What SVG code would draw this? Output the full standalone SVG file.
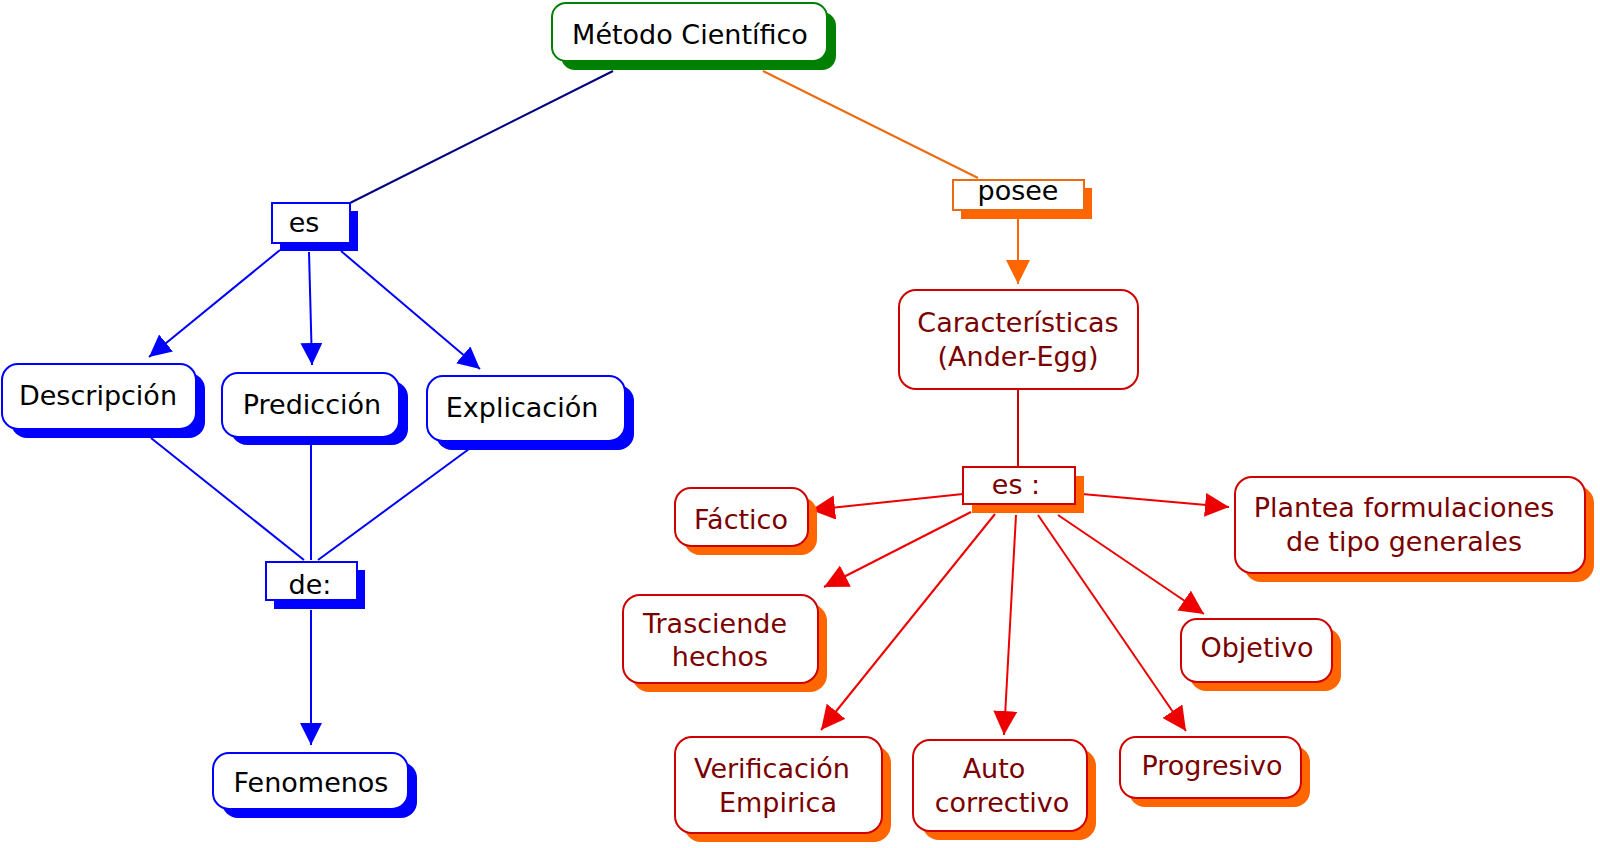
<svg xmlns="http://www.w3.org/2000/svg" width="1600" height="848" viewBox="0 0 1600 848">
<defs>
<style>
text{font-family:"DejaVu Sans",Verdana,sans-serif;font-size:27px;text-anchor:middle}
.blk{fill:#000}
.red{fill:#7a0000}
.bsh{fill:#0000ff}
.bbox{fill:#fff;stroke:#0000ff;stroke-width:2}
.osh{fill:#ff6600}
.rbox{fill:#fff;stroke:#d00000;stroke-width:2}
.gsh{fill:#008000}
.gbox{fill:#fff;stroke:#008000;stroke-width:2}
.obox{fill:#fff;stroke:#ee6a10;stroke-width:2}
.cb{stroke:#0000ff;stroke-width:2;fill:none}
.cr{stroke:#ee0000;stroke-width:2;fill:none}
</style>
<marker id="ab" markerUnits="userSpaceOnUse" markerWidth="24" markerHeight="24" refX="22" refY="11" orient="auto"><path d="M0,0 L22,11 L0,22 z" fill="#0000ff"/></marker>
<marker id="ar" markerUnits="userSpaceOnUse" markerWidth="26" markerHeight="26" refX="24" refY="12" orient="auto"><path d="M0,0 L24,12 L0,24 z" fill="#ee0000"/></marker>
<marker id="ao" markerUnits="userSpaceOnUse" markerWidth="26" markerHeight="26" refX="24" refY="12" orient="auto"><path d="M0,0 L24,12 L0,24 z" fill="#ff6600"/></marker>
</defs>
<rect width="1600" height="848" fill="#fff"/>
<g id="connectors">
<line x1="613" y1="71" x2="350" y2="203" stroke="#000080" stroke-width="2"/>
<line x1="763" y1="71" x2="978" y2="178" stroke="#ee6a10" stroke-width="2"/>
<line x1="1018" y1="219" x2="1018" y2="284" stroke="#ff6600" stroke-width="2" marker-end="url(#ao)"/>
<line x1="1018" y1="389" x2="1018" y2="467" stroke="#cc0000" stroke-width="2"/>
<line class="cb" x1="280" y1="250" x2="149" y2="357" marker-end="url(#ab)"/>
<line class="cb" x1="309" y1="252" x2="312" y2="365" marker-end="url(#ab)"/>
<line class="cb" x1="341" y1="251" x2="480" y2="369" marker-end="url(#ab)"/>
<line class="cb" x1="151" y1="438" x2="304" y2="560"/>
<line class="cb" x1="311" y1="442" x2="311" y2="560"/>
<line class="cb" x1="469" y1="449" x2="318" y2="560"/>
<line class="cb" x1="311" y1="610" x2="311" y2="745" marker-end="url(#ab)"/>
<line class="cr" x1="963" y1="494" x2="811" y2="510" marker-end="url(#ar)"/>
<line class="cr" x1="971" y1="512" x2="824" y2="587" marker-end="url(#ar)"/>
<line class="cr" x1="995" y1="514" x2="821" y2="730" marker-end="url(#ar)"/>
<line class="cr" x1="1016" y1="515" x2="1004" y2="735" marker-end="url(#ar)"/>
<line class="cr" x1="1038" y1="515" x2="1186" y2="731" marker-end="url(#ar)"/>
<line class="cr" x1="1058" y1="515" x2="1204" y2="614" marker-end="url(#ar)"/>
<line class="cr" x1="1082" y1="494" x2="1229" y2="507" marker-end="url(#ar)"/>
</g>
<g id="metodo">
<rect class="gsh" x="561" y="12" width="275" height="58" rx="14"/>
<rect class="gbox" x="552" y="3" width="275" height="58" rx="14"/>
<text class="blk" x="690" y="44">Método Científico</text>
</g>
<g id="es1">
<rect class="bsh" x="280" y="211" width="78" height="40"/>
<rect class="bbox" x="272" y="203" width="78" height="40"/>
<text class="blk" x="304" y="232">es</text>
</g>
<g id="descripcion">
<rect class="bsh" x="11" y="373" width="194" height="65" rx="16"/>
<rect class="bbox" x="2" y="364" width="194" height="65" rx="16"/>
<text class="blk" x="98" y="405">Descripción</text>
</g>
<g id="prediccion">
<rect class="bsh" x="231" y="381" width="177" height="64" rx="16"/>
<rect class="bbox" x="222" y="373" width="177" height="64" rx="16"/>
<text class="blk" x="312" y="414">Predicción</text>
</g>
<g id="explicacion">
<rect class="bsh" x="436" y="385" width="198" height="65" rx="16"/>
<rect class="bbox" x="427" y="376" width="198" height="65" rx="16"/>
<text class="blk" x="522" y="417">Explicación</text>
</g>
<g id="de">
<rect class="bsh" x="274" y="570" width="91" height="39"/>
<rect class="bbox" x="266" y="562" width="91" height="38"/>
<text class="blk" x="310" y="594">de:</text>
</g>
<g id="fenomenos">
<rect class="bsh" x="222" y="762" width="195" height="56" rx="16"/>
<rect class="bbox" x="213" y="753" width="195" height="56" rx="16"/>
<text class="blk" x="311" y="792">Fenomenos</text>
</g>
<g id="posee">
<rect class="osh" x="961" y="188" width="131" height="31"/>
<rect class="obox" x="953" y="180" width="131" height="30"/>
<text class="blk" x="1018" y="200">posee</text>
</g>
<g id="caracteristicas">
<rect class="rbox" x="899" y="290" width="239" height="99" rx="17"/>
<text class="red" x="1018" y="332">Características</text>
<text class="red" x="1018" y="366">(Ander-Egg)</text>
</g>
<g id="es2">
<rect class="osh" x="972" y="476" width="112" height="37"/>
<rect class="rbox" x="963" y="467" width="112" height="37"/>
<text class="red" x="1016" y="494">es :</text>
</g>
<g id="factico">
<rect class="osh" x="684" y="497" width="133" height="58" rx="16"/>
<rect class="rbox" x="675" y="488" width="133" height="58" rx="16"/>
<text class="red" x="741" y="529">Fáctico</text>
</g>
<g id="trasciende">
<rect class="osh" x="632" y="604" width="195" height="88" rx="17"/>
<rect class="rbox" x="623" y="595" width="195" height="88" rx="17"/>
<text class="red" x="715" y="633">Trasciende</text>
<text class="red" x="720" y="666">hechos</text>
</g>
<g id="plantea">
<rect class="osh" x="1244" y="486" width="350" height="96" rx="17"/>
<rect class="rbox" x="1235" y="477" width="350" height="96" rx="17"/>
<text class="red" x="1404" y="517">Plantea formulaciones</text>
<text class="red" x="1404" y="551">de tipo generales</text>
</g>
<g id="objetivo">
<rect class="osh" x="1190" y="628" width="151" height="63" rx="16"/>
<rect class="rbox" x="1181" y="619" width="151" height="63" rx="16"/>
<text class="red" x="1257" y="657">Objetivo</text>
</g>
<g id="verificacion">
<rect class="osh" x="684" y="746" width="207" height="96" rx="17"/>
<rect class="rbox" x="675" y="737" width="207" height="96" rx="17"/>
<text class="red" x="772" y="778">Verificación</text>
<text class="red" x="778" y="812">Empirica</text>
</g>
<g id="auto">
<rect class="osh" x="922" y="749" width="174" height="91" rx="17"/>
<rect class="rbox" x="913" y="740" width="174" height="91" rx="17"/>
<text class="red" x="994" y="778">Auto</text>
<text class="red" x="1002" y="812">correctivo</text>
</g>
<g id="progresivo">
<rect class="osh" x="1129" y="746" width="181" height="61" rx="16"/>
<rect class="rbox" x="1120" y="737" width="181" height="61" rx="16"/>
<text class="red" x="1212" y="775">Progresivo</text>
</g>
</svg>
